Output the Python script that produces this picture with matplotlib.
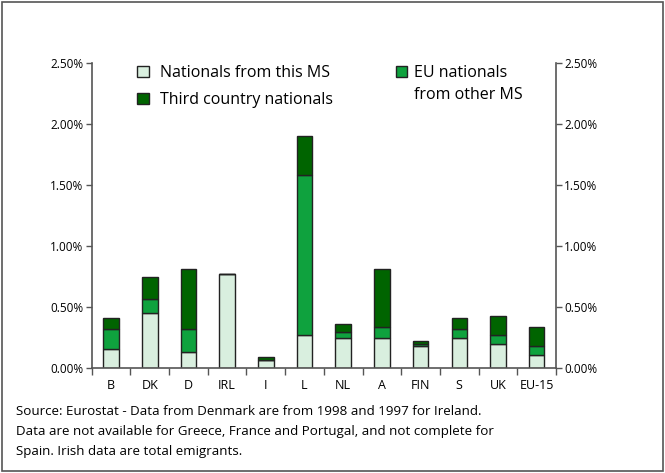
import matplotlib.pyplot as plt
from matplotlib.patches import Rectangle
from matplotlib.ticker import PercentFormatter, FixedLocator
import numpy as np

plt.rcParams['font.family'] = ['Open Sans', 'DejaVu Sans']

countries = ["B", "DK", "D", "IRL", "I", "L", "NL", "A", "FIN", "S", "UK", "EU-15"]
# values in % of population
nationals = [0.16, 0.45, 0.13, 0.77, 0.065, 0.27, 0.245, 0.25, 0.18, 0.25, 0.20, 0.11]
eu_other = [0.16, 0.115, 0.19, 0.0, 0.0, 1.315, 0.05, 0.09, 0.02, 0.07, 0.07, 0.07]
third = [0.09, 0.18, 0.495, 0.0, 0.025, 0.32, 0.065, 0.475, 0.025, 0.09, 0.16, 0.16]

c_light = "#d9efdf"
c_mid = "#0fa23e"
c_dark = "#006400"

fig = plt.figure(figsize=(6.65, 4.73), dpi=100)
ax = fig.add_axes([0.138, 0.2214, 0.698, 0.6454])

x = np.arange(len(countries))
w = 0.4
nat = np.array(nationals)
eu = np.array(eu_other)
th = np.array(third)
b1 = ax.bar(x, nat, w, color=c_light, edgecolor="#222222", linewidth=1)
b2 = ax.bar(x, eu, w, bottom=nat, color=c_mid, edgecolor="#222222", linewidth=1)
b3 = ax.bar(x, th, w, bottom=nat + eu, color=c_dark, edgecolor="#222222", linewidth=1)

ax.set_xlim(-0.5, len(countries) - 0.5)
ax.set_ylim(0, 2.5)
ax.set_yticks([0, 0.5, 1.0, 1.5, 2.0, 2.5])
ax.yaxis.set_major_formatter(PercentFormatter(decimals=2))
ax.set_xticks(x)
ax.set_xticklabels(countries)
ax.xaxis.set_minor_locator(FixedLocator(np.arange(-0.5, len(countries), 1.0)))
ax.tick_params(axis="x", which="major", length=0, labelsize=9, pad=8)
ax.tick_params(axis="x", which="minor", length=5, width=1, color="#555555", direction="out")
ax.tick_params(axis="y", length=4, width=1, labelsize=8.5, color="#555555", pad=2)
for s in ["top", "right"]:
    ax.spines[s].set_visible(False)
for s in ["left", "bottom"]:
    ax.spines[s].set_color("#555555")
    ax.spines[s].set_linewidth(1.2)

ax2 = ax.twinx()
ax2.set_ylim(0, 2.5)
ax2.set_yticks([0, 0.5, 1.0, 1.5, 2.0, 2.5])
ax2.yaxis.set_major_formatter(PercentFormatter(decimals=2))
ax2.tick_params(axis="y", length=4, width=1, labelsize=8.5, color="#555555", pad=2)
for s in ["top", "left", "bottom"]:
    ax2.spines[s].set_visible(False)
ax2.spines["right"].set_color("#555555")
ax2.spines["right"].set_linewidth(1.2)

leg_kw = dict(loc="upper left", frameon=False, fontsize=11.5, handlelength=0.73,
              handleheight=0.73, borderpad=0, borderaxespad=0)
leg1 = ax2.legend([b1, b3], ["Nationals from this MS", "Third country nationals"],
                  bbox_to_anchor=(0.0976, 0.994), handletextpad=0.7,
                  labelspacing=0.7, **leg_kw)
ax2.add_artist(leg1)
blank = Rectangle((0, 0), 1, 1, visible=False)
ax2.legend([b2, blank], ["EU nationals", "from other MS"],
           bbox_to_anchor=(0.655, 0.994), handletextpad=0.4,
           labelspacing=0.36, **leg_kw)

fig.text(0.024, 0.1448, "Source: Eurostat - Data from Denmark are from 1998 and 1997 for Ireland.\n"
         "Data are not available for Greece, France and Portugal, and not complete for\n"
         "Spain. Irish data are total emigrants.",
         fontsize=9.6, va="top", ha="left", linespacing=1.72)

fig.patches.append(Rectangle((0.003, 0.004), 0.994, 0.992, transform=fig.transFigure,
                             fill=False, edgecolor="#555555", linewidth=1.2))

fig.savefig("out.png", dpi=100)
